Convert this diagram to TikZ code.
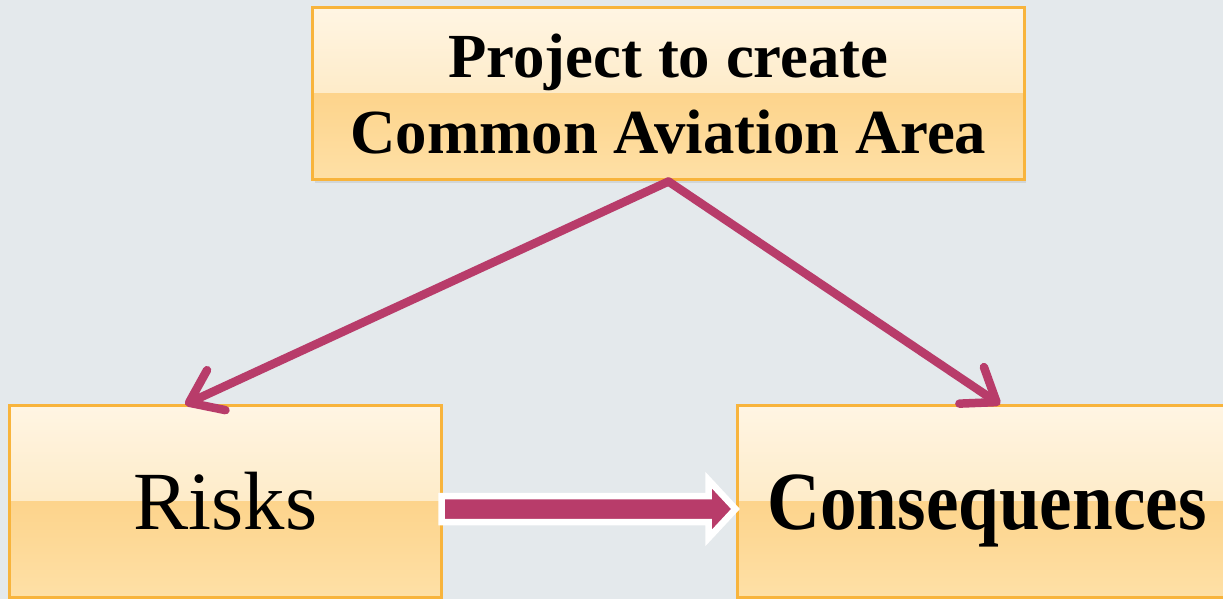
\documentclass[tikz,border=0pt]{standalone}
\usepackage{fontspec}
\setmainfont{Liberation Serif}
\usetikzlibrary{arrows.meta,calc,shadows}
\definecolor{bgcol}{HTML}{E4E9EC}
\definecolor{boxline}{HTML}{F8B43C}
\definecolor{glossA}{HTML}{FFF5E3}
\definecolor{glossB}{HTML}{FDE2AE}
\definecolor{glossC}{HTML}{FDD48C}
\definecolor{glossD}{HTML}{FEE0A6}
\definecolor{plum}{HTML}{B83C6A}
\tikzset{
  glossbox/.style={rectangle, draw=boxline, line width=3bp, inner sep=0pt,
    drop shadow={shadow xshift=2bp, shadow yshift=-3bp, opacity=0.18},
    path picture={
      \fill[top color=glossA, bottom color=glossB]
        (path picture bounding box.north west) rectangle (path picture bounding box.east);
      \fill[top color=glossC, bottom color=glossD]
        (path picture bounding box.west) rectangle (path picture bounding box.south east);
    }},
  linkarrow/.style={draw=plum, line width=8.5bp, line cap=round,
    -{Straight Barb[length=30bp, width=44bp, round]}},
  bigarrow/.style={fill=plum, draw=white, line width=6.5bp, line join=miter}
}
\begin{document}
\begin{tikzpicture}[x=1bp,y=-1bp]
\fill[bgcol] (0,0) rectangle (1223,599);
\useasboundingbox (0,0) rectangle (1223,599);
\node[glossbox, minimum width=711bp, minimum height=172bp, align=center,
  font=\fontsize{63}{77}\selectfont\bfseries] (proj) at (668.5,94)
  {Project to create\\Common Aviation Area};
\node[glossbox, minimum width=431bp, minimum height=191bp,
  font=\fontsize{83}{90}\selectfont, text height=55bp, text depth=0pt] (risks) at (225.5,501.5) {Risks};
\node[glossbox, minimum width=500bp, minimum height=191bp,
  font=\fontsize{83}{90}\selectfont\bfseries, text height=55bp, text depth=0pt] (cons) at (987,501.5)
  {\scalebox{0.885}[1]{Consequences}};
\draw[linkarrow] (proj.south) -- ($(risks.north west)!0.407!(risks.north east)$);
\draw[linkarrow] (proj.south) -- ($(cons.north west)!0.526!(cons.north east)$);
\coordinate (tail) at ($(risks.east)+(-1,7.5)$);
\coordinate (tip) at ($(cons.west)+(0,7.5)$);
\draw[bigarrow] ($(tail)+(0,-13)$) -- ($(tip)+(-27,-13)$) -- ($(tip)+(-27,-29)$)
  -- (tip) -- ($(tip)+(-27,29)$) -- ($(tip)+(-27,13)$) -- ($(tail)+(0,13)$) -- cycle;
\end{tikzpicture}
\end{document}
